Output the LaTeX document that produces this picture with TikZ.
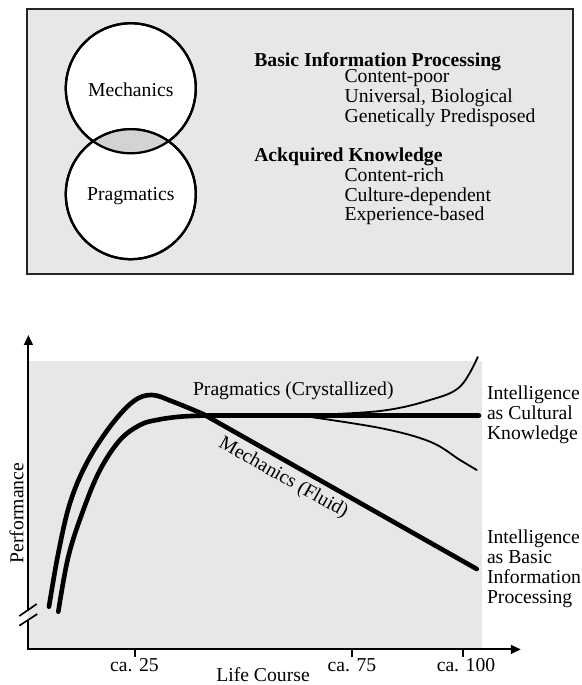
\documentclass[tikz,border=0pt]{standalone}
\usepackage{fontspec}
\setmainfont{Liberation Serif}
\usepackage{xcolor}
\usepackage{tikz}
\usetikzlibrary{arrows.meta,calc}

\definecolor{panelgray}{HTML}{E6E7E8}
\definecolor{lensgray}{HTML}{D1D3D4}

\tikzset{
    txt/.style={font=\fontsize{14}{14}\selectfont, inner sep=0pt},
    ring/.style={circle, draw, line width=1.6pt, fill=white, minimum size=3.25cm, inner sep=0pt},
    axisline/.style={line width=1.4pt},
    heavycurve/.style={line width=3.3pt, line cap=round, line join=round},
    lightcurve/.style={line width=1.3pt, line cap=round},
    breakmark/.style={line width=1.2pt}
}

\begin{document}
\begin{tikzpicture}
    \useasboundingbox (0,0) rectangle (14.525,17.125);

    % Upper panel
    \draw [line width=1.4pt, draw=black!85, fill=panelgray] (0.683,10.275) rectangle (14.333,16.9);

    % Mechanics / Pragmatics circles
    \node [ring, txt] (mech) at (3.27,14.918) {};
    \node [ring, txt] (prag) at (3.27,12.27) {};
    \begin{scope}
        \clip (mech.center) circle (1.625);
        \fill [lensgray] (prag.center) circle (1.625);
    \end{scope}
    \draw [line width=1.6pt] (mech.center) circle (1.625);
    \draw [line width=1.6pt] (prag.center) circle (1.625);
    \node [txt] (mechtxt) at (3.27,14.875) {Mechanics};
    \node [txt] (pragtxt) at (3.27,12.21) {Pragmatics};

    % Basic Information Processing
    \node [txt, anchor=base west] (basic) at (6.35,15.458) {\textbf{Basic Information Processing}};
    \node [txt, anchor=base west] (poor) at (8.607,15.058) {Content-poor};
    \node [txt, anchor=base west] (bio) at (8.607,14.563) {Universal, Biological};
    \node [txt, anchor=base west] (gene) at (8.607,14.068) {Genetically Predisposed};

    % Ackquired Knowledge
    \node [txt, anchor=base west] (ack) at (6.35,13.083) {\textbf{Ackquired Knowledge}};
    \node [txt, anchor=base west] (rich) at (8.607,12.59) {Content-rich};
    \node [txt, anchor=base west] (cult) at (8.607,12.097) {Culture-dependent};
    \node [txt, anchor=base west] (exper) at (8.607,11.604) {Experience-based};

    % Lower panel: plot area
    \coordinate (origin) at (0.71,0.89);
    \coordinate (ytip) at (0.71,8.75);
    \coordinate (xtip) at (13.02,0.89);
    \fill [panelgray] (origin) rectangle (12.04,8.1);

    % Axes with break
    \draw [axisline, -{Triangle[length=0.25cm,width=0.22cm]}] (0.71,1.86) -- (ytip);
    \draw [axisline, -{Triangle[length=0.25cm,width=0.22cm]}] (0.71,1.61) -- (origin) -- (xtip);
    \draw [breakmark] (0.483,1.725) -- (0.918,2.025);
    \draw [breakmark] (0.483,1.483) -- (0.933,1.775);

    % Ticks
    \draw [axisline] (3.383,0.89) -- (3.383,0.7);
    \draw [axisline] (8.79,0.89) -- (8.79,0.7);
    \draw [axisline] (11.563,0.89) -- (11.563,0.7);
    \node [txt, anchor=base] (t25) at (3.36,0.333) {ca. 25};
    \node [txt, anchor=base] (t75) at (8.8,0.333) {ca. 75};
    \node [txt, anchor=base] (t100) at (11.65,0.333) {ca. 100};
    \node [txt, anchor=base] (xlab) at (6.575,0.075) {Life Course};
    \node [txt, anchor=base, rotate=90] (ylab) at (0.583,4.3) {Performance};

    % Mechanics (Fluid)
    \draw [heavycurve] plot [smooth, tension=0.6] coordinates {(1.225,1.958) (1.458,3.3) (1.75,4.55) (2.168,5.55) (2.75,6.458) (3.325,7.083) (3.793,7.25) (4.325,7.083) (5.075,6.775)} -- (11.918,2.9);

    % Pragmatics (Crystallized)
    \draw [heavycurve] plot [smooth, tension=0.6] coordinates {(1.458,1.833) (1.708,3.208) (2.083,4.375) (2.5,5.375) (3.0,6.125) (3.5,6.5) (3.918,6.625) (4.5,6.708) (5.168,6.7375)} -- (11.975,6.7375);

    % Spread of cultural knowledge
    \draw [lightcurve] plot [smooth, tension=0.6] coordinates {(7.5,6.7375) (9.5,6.85) (10.75,7.125) (11.5,7.458) (11.943,8.2)};
    \draw [lightcurve] plot [smooth, tension=0.6] coordinates {(7.5,6.7375) (9.5,6.425) (10.75,6.083) (11.5,5.625) (11.918,5.375)};

    \node [txt, anchor=base west] (pragcurve) at (4.818,7.233) {Pragmatics (Crystallized)};
    \node [txt, rotate=-29.5] (mechcurve) at (7.083,5.168) {Mechanics (Fluid)};

    % Right-hand labels
    \node [txt, anchor=base west] (cul1) at (12.168,7.125) {Intelligence};
    \node [txt, anchor=base west] (cul2) at (12.168,6.631) {as Cultural};
    \node [txt, anchor=base west] (cul3) at (12.168,6.137) {Knowledge};
    \node [txt, anchor=base west] (bas1) at (12.168,3.525) {Intelligence};
    \node [txt, anchor=base west] (bas2) at (12.168,3.031) {as Basic};
    \node [txt, anchor=base west] (bas3) at (12.168,2.537) {Information};
    \node [txt, anchor=base west] (bas4) at (12.168,2.043) {Processing};
\end{tikzpicture}
\end{document}
